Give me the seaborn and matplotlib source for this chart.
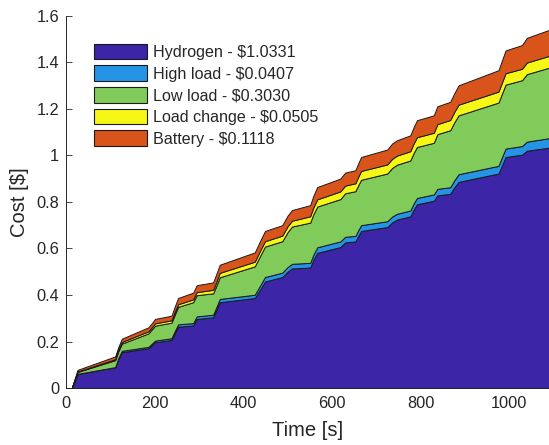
import numpy as np
import matplotlib
matplotlib.use("Agg")
import matplotlib.pyplot as plt
import seaborn as sns
from matplotlib.patches import Patch

# time axis [s]
time_s = [0, 13, 26, 111, 118, 126, 186, 195, 201, 238, 246, 253, 287, 295,
          332, 340, 347, 426, 437, 449, 488, 500, 510, 551, 558, 567, 619, 630,
          653, 660, 666, 725, 736, 747, 777, 784, 792, 830, 838, 867, 876, 886,
          976, 984, 992, 1029, 1040, 1090]

# cumulative cost of each component [$]
hydrogen = [0, 0, 0.061, 0.090, 0.125, 0.154, 0.171, 0.186, 0.197, 0.207, 0.238,
            0.264, 0.269, 0.297, 0.304, 0.338, 0.369, 0.387, 0.420, 0.458, 0.477,
            0.500, 0.514, 0.518, 0.550, 0.581, 0.606, 0.626, 0.630, 0.655, 0.675,
            0.692, 0.712, 0.724, 0.738, 0.765, 0.790, 0.805, 0.828, 0.835, 0.862,
            0.886, 0.922, 0.958, 0.993, 1.003, 1.020, 1.0331]
high_load = [0, 0, 0, 0, 0.003, 0.006, 0.006, 0.007, 0.007, 0.007, 0.009, 0.010,
             0.010, 0.011, 0.011, 0.013, 0.014, 0.014, 0.017, 0.019, 0.019, 0.020,
             0.020, 0.020, 0.022, 0.024, 0.024, 0.024, 0.024, 0.025, 0.025, 0.025,
             0.025, 0.025, 0.025, 0.026, 0.027, 0.027, 0.028, 0.028, 0.030, 0.033,
             0.033, 0.035, 0.036, 0.037, 0.039, 0.0407]
low_load = [0, 0, 0.008, 0.030, 0.030, 0.031, 0.058, 0.062, 0.064, 0.067, 0.071,
            0.075, 0.090, 0.091, 0.092, 0.092, 0.093, 0.122, 0.127, 0.131, 0.135,
            0.150, 0.160, 0.173, 0.174, 0.175, 0.182, 0.187, 0.192, 0.194, 0.195,
            0.205, 0.209, 0.211, 0.215, 0.217, 0.219, 0.222, 0.235, 0.245, 0.249,
            0.253, 0.272, 0.273, 0.275, 0.283, 0.290, 0.3030]
load_change = [0, 0, 0.002, 0.004, 0.005, 0.007, 0.009, 0.009, 0.010, 0.010, 0.011,
               0.011, 0.012, 0.013, 0.015, 0.017, 0.019, 0.020, 0.022, 0.023, 0.024,
               0.025, 0.025, 0.027, 0.029, 0.031, 0.033, 0.033, 0.034, 0.036, 0.038,
               0.039, 0.039, 0.039, 0.040, 0.041, 0.042, 0.043, 0.043, 0.044, 0.045,
               0.046, 0.047, 0.048, 0.049, 0.049, 0.050, 0.0505]
battery = [0, 0, 0.007, 0.012, 0.013, 0.014, 0.017, 0.018, 0.019, 0.020, 0.024,
           0.027, 0.029, 0.030, 0.032, 0.034, 0.035, 0.040, 0.042, 0.044, 0.045,
           0.046, 0.046, 0.048, 0.050, 0.053, 0.055, 0.056, 0.056, 0.058, 0.060,
           0.064, 0.066, 0.066, 0.068, 0.070, 0.073, 0.075, 0.077, 0.078, 0.080,
           0.083, 0.092, 0.095, 0.098, 0.102, 0.106, 0.1118]

names = ["Hydrogen", "High load", "Low load", "Load change", "Battery"]
colors = ["#3C25A6", "#2594E6", "#80CB5A", "#F7F716", "#D9541A"]

sns.set_style("ticks")
plt.rcParams["font.family"] = ["Liberation Sans", "DejaVu Sans"]
plt.rcParams["text.color"] = "#262626"
plt.rcParams["axes.labelcolor"] = "#262626"

series = [hydrogen, high_load, low_load, load_change, battery]
labels = [f"{n} - \\${s[-1]:.4f}" for n, s in zip(names, series)]

fig = plt.figure(figsize=(5.49, 4.45), dpi=100)
ax = fig.add_axes([0.1202, 0.128, 0.8798, 0.8366])

ax.stackplot(time_s, *series, colors=colors, edgecolor="#1a1a1a", linewidth=0.7)

ax.set_xlim(0, 1090)
ax.set_ylim(0, 1.6)
ax.set_xticks([0, 200, 400, 600, 800, 1000])
ax.set_yticks(np.arange(0, 1.61, 0.2))
ax.set_yticklabels(["0", "0.2", "0.4", "0.6", "0.8", "1", "1.2", "1.4", "1.6"])
ax.tick_params(direction="in", length=4, width=0.6, labelsize=11.8, colors="#262626",
               labelcolor="#262626")
ax.tick_params(axis="x", pad=6)
ax.tick_params(axis="y", pad=5)
ax.set_xlabel("Time [s]", fontsize=14.5, labelpad=7)
ax.set_ylabel("Cost [\\$]", fontsize=14.5, labelpad=5)

sns.despine(ax=ax)
for side in ["left", "bottom"]:
    ax.spines[side].set_color("#262626")
    ax.spines[side].set_linewidth(0.7)

handles = [Patch(facecolor=c, edgecolor="#1a1a1a", linewidth=0.8) for c in colors]
ax.legend(handles, labels, loc="upper left", bbox_to_anchor=(0.058, 0.925),
          frameon=False, fontsize=11.6, handlelength=3.3, handleheight=1.1,
          handletextpad=0.35, labelspacing=0.34, borderpad=0, borderaxespad=0)

fig.savefig("out.png", dpi=100)
